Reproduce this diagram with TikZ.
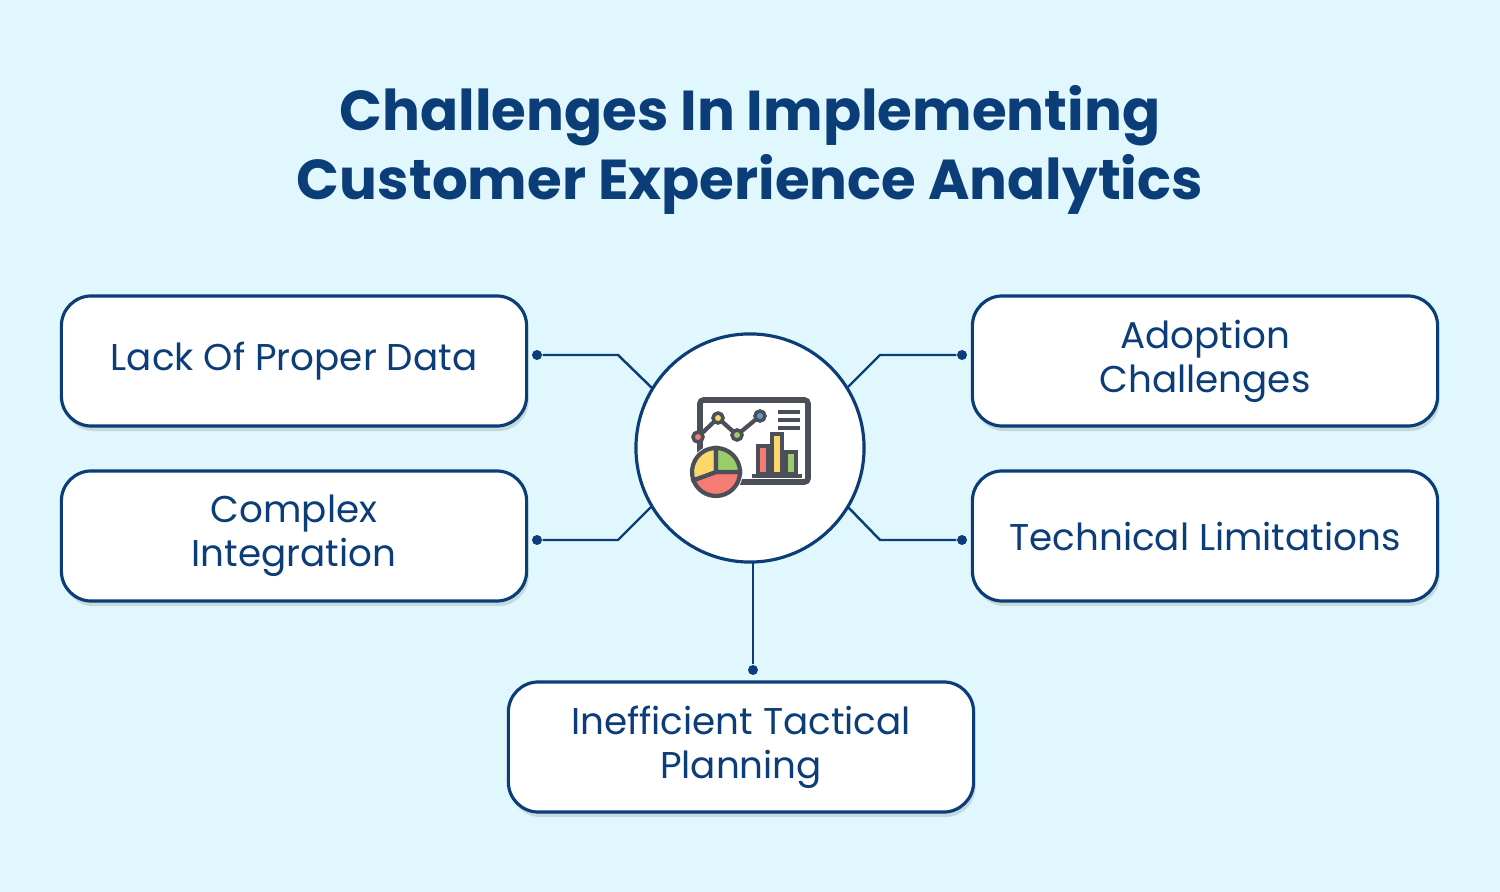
\documentclass[tikz,border=0pt]{standalone}
\usepackage{fontspec}
\setmainfont{Poppins}
\usetikzlibrary{shadows}
\definecolor{bg}{HTML}{E0F8FD}
\definecolor{navy}{HTML}{0B3D78}
\definecolor{pyel}{HTML}{FCD86A}
\definecolor{pgrn}{HTML}{9CCB6B}
\definecolor{pred}{HTML}{F47C74}
\definecolor{pblu}{HTML}{5B9BD5}
\definecolor{icg}{HTML}{4A4F5A}
\tikzset{
 box/.style={draw=navy,line width=0.9pt,fill=white,rounded corners=0.3cm,minimum width=4.65cm,minimum height=1.3cm,align=center,text=navy,font=\fontsize{10.6}{12.5}\selectfont,drop shadow={shadow xshift=0.02cm,shadow yshift=-0.05cm,opacity=0.25}},
 conn/.style={draw=navy,line width=0.7pt},
 dotc/.style={circle,fill=navy,inner sep=0pt,minimum size=0.1cm}
}
\begin{document}
\begin{tikzpicture}[x=0.01cm,y=-0.01cm]
\fill[bg] (0,0) rectangle (1500,892);
\node[text=navy,font=\fontsize{16}{19.5}\selectfont\bfseries,align=center] (title) at (750,150) {Challenges In Implementing\\Customer Experience Analytics};
\node[box] (b1) at (294,361) {Lack Of Proper Data};
\node[box] (b2) at (294,536) {Complex\\Integration};
\node[box] (b3) at (1205,361) {Adoption\\Challenges};
\node[box] (b4) at (1205,536) {Technical Limitations};
\node[box] (b5) at (741,747) {Inefficient Tactical\\Planning};
\node[circle,draw=navy,line width=0.9pt,fill=white,minimum size=2.28cm] (c) at (750,448) {};
\node[dotc] (d1) at (537,355) {};
\node[dotc] (d2) at (537,540) {};
\node[dotc] (d3) at (962,355) {};
\node[dotc] (d4) at (962,540) {};
\node[dotc] (d5) at (753,670) {};
\coordinate (e1) at (652,388);
\coordinate (e2) at (652,506);
\coordinate (e3) at (847,388);
\coordinate (e4) at (847,506);
\coordinate (e5) at (753,562);
\draw[conn] (d1) -- (618,355) -- (e1);
\draw[conn] (d2) -- (618,540) -- (e2);
\draw[conn] (d3) -- (880,355) -- (e3);
\draw[conn] (d4) -- (880,540) -- (e4);
\draw[conn] (e5) -- (d5);
% icon
\draw[icg,line width=1.6pt,fill=white,rounded corners=1pt] (700,400) rectangle (808,482);
\foreach \x/\h/\c in {758/28/pred,772/40/pyel,786/22/pgrn}
  \draw[icg,line width=1pt,fill=\c] (\x,474) rectangle (\x+10,474-\h);
\draw[icg,line width=1.2pt] (752,476) -- (802,476);
\foreach \y in {412,420,428} \draw[icg,line width=1.2pt] (778,\y) -- (800,\y);
\draw[icg,line width=1.2pt] (698,437) -- (718,418) -- (737,435) -- (760,416);
\foreach \p/\c in {(698,437)/pred,(718,418)/pyel,(737,435)/pgrn,(760,416)/pblu}
  \draw[icg,line width=1pt,fill=\c] \p circle (5);
\fill[white] (716,472) circle (27);
\draw[icg,line width=1.2pt,fill=pred] (716,472) -- (740,472) arc[start angle=0,end angle=160,radius=24] -- cycle;
\draw[icg,line width=1.2pt,fill=pyel] (716,472) -- (716,448) arc[start angle=-90,end angle=-200,radius=24] -- cycle;
\draw[icg,line width=1.2pt,fill=pgrn] (716,472) -- (740,472) arc[start angle=0,end angle=-90,radius=24] -- cycle;
\end{tikzpicture}
\end{document}
